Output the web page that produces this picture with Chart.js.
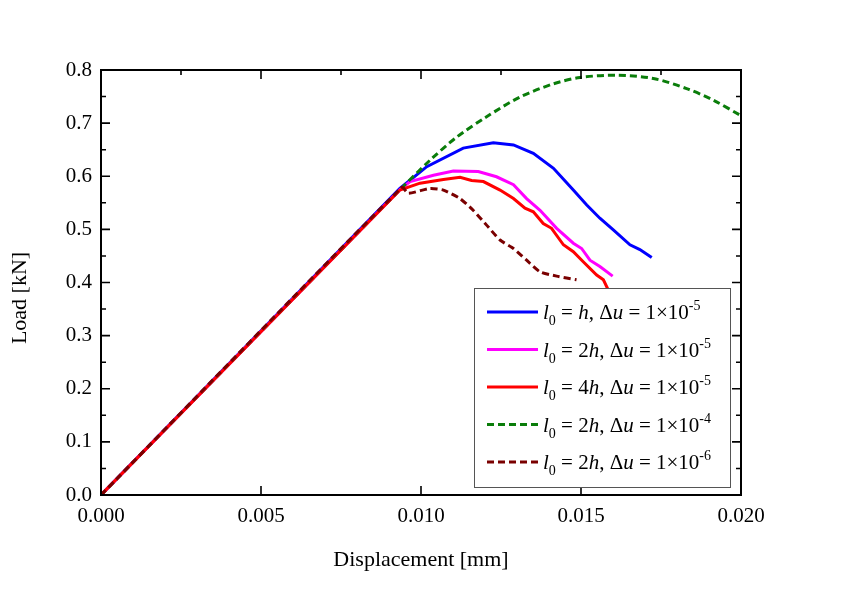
<!DOCTYPE html>
<html>
<head>
    <title>Load - Displacement</title>
    <script src="https://cdn.jsdelivr.net/npm/chart.js"></script>
    <style>
        body { margin: 0; background: #fff; }
    </style>
</head>
<body>
    <canvas id="loadChart" width="842" height="596"></canvas>

    <script>
        // Nilai (Displacement [mm], Load [kN])
        const blueX = [0, 0.00934, 0.01018, 0.01132, 0.01226, 0.01289, 0.01351, 0.01414, 0.01476, 0.01518, 0.01559, 0.01601, 0.01653, 0.01684, 0.01721];
        const blueY = [0, 0.577, 0.618, 0.653, 0.663, 0.659, 0.643, 0.615, 0.574, 0.546, 0.521, 0.499, 0.471, 0.462, 0.447];

        const magentaX = [0, 0.00940, 0.00966, 0.01039, 0.01101, 0.01179, 0.01236, 0.01289, 0.01330, 0.01372, 0.01424, 0.01476, 0.01502, 0.01528, 0.01559, 0.01599];
        const magentaY = [0, 0.578, 0.590, 0.602, 0.610, 0.609, 0.599, 0.584, 0.558, 0.536, 0.502, 0.474, 0.464, 0.442, 0.430, 0.412];

        const redX = [0, 0.00934, 0.00997, 0.01070, 0.01122, 0.01158, 0.01195, 0.01247, 0.01289, 0.01325, 0.01351, 0.01382, 0.01408, 0.01445, 0.01476, 0.01507, 0.01549, 0.01570, 0.01585, 0.01600];
        const redY = [0, 0.574, 0.587, 0.594, 0.598, 0.592, 0.590, 0.574, 0.558, 0.540, 0.533, 0.511, 0.502, 0.471, 0.458, 0.439, 0.414, 0.405, 0.386, 0.360];

        const greenX = [0, 0.00940, 0.01028, 0.01110, 0.01205, 0.01309, 0.01414, 0.01497, 0.01611, 0.01726, 0.01830, 0.01914, 0.02000];
        const greenY = [0, 0.578, 0.630, 0.673, 0.712, 0.749, 0.774, 0.786, 0.790, 0.784, 0.765, 0.743, 0.714];

        const darkRedX = [0, 0.00940, 0.00960, 0.01028, 0.01070, 0.01122, 0.01163, 0.01205, 0.01247, 0.01289, 0.01330, 0.01372, 0.01424, 0.01486];
        const darkRedY = [0, 0.579, 0.568, 0.577, 0.574, 0.558, 0.536, 0.508, 0.480, 0.464, 0.442, 0.420, 0.412, 0.405];

        // Teks legenda: l0 = [faktor]h, Δu = 1×10^[eksponen]
        const legendFactor = ['', '2', '4', '2', '2'];
        const legendExponent = ['-5', '-5', '-5', '-4', '-6'];

        const xTicks = [0, 0.005, 0.010, 0.015, 0.020];
        const yTicks = [0, 0.1, 0.2, 0.3, 0.4, 0.5, 0.6, 0.7, 0.8];

        const FONT = "'Liberation Serif', 'DejaVu Serif', serif";

        function toPoints(xs, ys) {
            return xs.map((x, i) => ({ x: x, y: ys[i] }));
        }

        // Bingkai, tick ke dalam, judul sumbu dan legenda
        const framePlugin = {
            id: 'frame',
            afterDraw(chart) {
                const ctx = chart.ctx;
                const a = chart.chartArea;
                const xs = chart.scales.x;
                const ys = chart.scales.y;
                ctx.save();

                ctx.strokeStyle = '#000';
                ctx.lineWidth = 2;
                ctx.strokeRect(a.left, a.top, a.right - a.left, a.bottom - a.top);

                ctx.lineWidth = 1.6;
                ctx.beginPath();
                for (let v = 0; v <= 0.0201; v += 0.0025) {
                    const px = xs.getPixelForValue(v);
                    const major = Math.round(v / 0.0025) % 2 === 0;
                    const len = major ? 9 : 5;
                    ctx.moveTo(px, a.top); ctx.lineTo(px, a.top + len);
                    if (major) { ctx.moveTo(px, a.bottom); ctx.lineTo(px, a.bottom - len); }
                }
                for (let v = 0; v <= 0.801; v += 0.05) {
                    const py = ys.getPixelForValue(v);
                    const major = Math.round(v / 0.05) % 2 === 0;
                    const len = major ? 9 : 5;
                    ctx.moveTo(a.left, py); ctx.lineTo(a.left + len, py);
                    ctx.moveTo(a.right, py); ctx.lineTo(a.right - len, py);
                }
                ctx.stroke();

                // judul sumbu
                ctx.fillStyle = '#000';
                ctx.font = '22px ' + FONT;
                ctx.textAlign = 'center';
                ctx.textBaseline = 'middle';
                ctx.fillText('Displacement [mm]', (a.left + a.right) / 2, 560);
                ctx.save();
                ctx.translate(20, 298);
                ctx.rotate(-Math.PI / 2);
                ctx.fillText('Load [kN]', 0, 0);
                ctx.restore();

                // legenda
                const lx = 474, ly = 288, lw = 256, lh = 199;
                ctx.fillStyle = '#fff';
                ctx.fillRect(lx, ly, lw, lh);
                ctx.strokeStyle = '#555';
                ctx.lineWidth = 1;
                ctx.strokeRect(lx + 0.5, ly + 0.5, lw, lh);

                chart.data.datasets.forEach((ds, i) => {
                    const cy = ly + 24 + i * 37.5;
                    ctx.strokeStyle = ds.borderColor;
                    ctx.lineWidth = 3;
                    ctx.setLineDash(ds.borderDash || []);
                    ctx.beginPath();
                    ctx.moveTo(487, cy);
                    ctx.lineTo(538, cy);
                    ctx.stroke();
                    ctx.setLineDash([]);

                    const parts = [
                        { t: 'l', it: true },
                        { t: '0', sub: true },
                        { t: ' = ' + legendFactor[i] },
                        { t: 'h', it: true },
                        { t: ', \u0394' },
                        { t: 'u', it: true },
                        { t: ' = 1\u00d710' },
                        { t: legendExponent[i], sup: true }
                    ];
                    let tx = 543;
                    const base = cy + 7;
                    ctx.fillStyle = '#000';
                    ctx.textAlign = 'left';
                    ctx.textBaseline = 'alphabetic';
                    parts.forEach(p => {
                        let size = 21, dy = 0;
                        if (p.sub) { size = 14; dy = 6; }
                        if (p.sup) { size = 14; dy = -9; }
                        ctx.font = (p.it ? 'italic ' : '') + size + 'px ' + FONT;
                        ctx.fillText(p.t, tx, base + dy);
                        tx += ctx.measureText(p.t).width;
                    });
                });

                ctx.restore();
            }
        };

        const ctx = document.getElementById('loadChart').getContext('2d');
        const chart = new Chart(ctx, {
            type: 'line',
            data: {
                datasets: [
                    {
                        label: 'l0 = h, du = 1e-5',
                        data: toPoints(blueX, blueY),
                        borderColor: '#0000ff',
                        order: 5
                    },
                    {
                        label: 'l0 = 2h, du = 1e-5',
                        data: toPoints(magentaX, magentaY),
                        borderColor: '#ff00ff',
                        order: 4
                    },
                    {
                        label: 'l0 = 4h, du = 1e-5',
                        data: toPoints(redX, redY),
                        borderColor: '#ff0000',
                        order: 2
                    },
                    {
                        label: 'l0 = 2h, du = 1e-4',
                        data: toPoints(greenX, greenY),
                        borderColor: '#0a7d0a',
                        borderDash: [7, 4],
                        tension: 0.3,
                        order: 3
                    },
                    {
                        label: 'l0 = 2h, du = 1e-6',
                        data: toPoints(darkRedX, darkRedY),
                        borderColor: '#7a0000',
                        borderDash: [7, 4],
                        tension: 0.2,
                        order: 1
                    }
                ]
            },
            options: {
                responsive: false,
                animation: false,
                devicePixelRatio: 1,
                layout: { padding: { top: 70, right: 101, left: 0, bottom: 0 } },
                elements: {
                    point: { radius: 0 },
                    line: { borderWidth: 3, fill: false }
                },
                plugins: {
                    legend: { display: false },
                    tooltip: { enabled: false }
                },
                scales: {
                    x: {
                        type: 'linear',
                        min: 0,
                        max: 0.02,
                        afterFit: s => { s.height = 101; },
                        afterBuildTicks: s => { s.ticks = xTicks.map(v => ({ value: v })); },
                        grid: { display: false, drawTicks: false },
                        border: { display: false },
                        ticks: {
                            padding: 9,
                            color: '#000',
                            font: { family: FONT, size: 21 },
                            callback: v => v.toFixed(3)
                        }
                    },
                    y: {
                        type: 'linear',
                        min: 0,
                        max: 0.8,
                        afterFit: s => { s.width = 101; },
                        afterBuildTicks: s => { s.ticks = yTicks.map(v => ({ value: v })); },
                        grid: { display: false, drawTicks: false },
                        border: { display: false },
                        ticks: {
                            padding: 9,
                            color: '#000',
                            font: { family: FONT, size: 21 },
                            callback: v => v.toFixed(1)
                        }
                    }
                }
            },
            plugins: [framePlugin]
        });
    </script>
</body>
</html>
